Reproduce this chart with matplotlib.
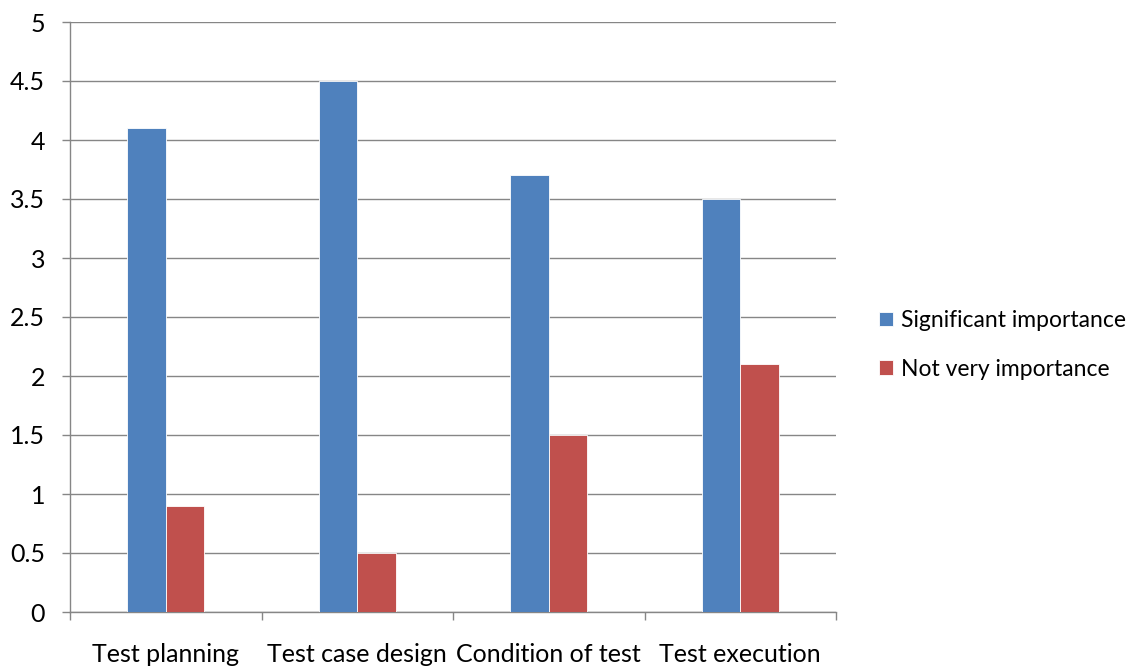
import numpy as np
import matplotlib.pyplot as plt

categories = ["Test planning", "Test case design", "Condition of test", "Test execution"]
significant = [4.1, 4.5, 3.7, 3.5]
not_very = [0.9, 0.5, 1.5, 2.1]
series_names = ["Significant importance", "Not very importance"]

plt.rcParams['font.family'] = ['Lato', 'DejaVu Sans']

fig = plt.figure(figsize=(11.44, 6.66), dpi=100)
ax = fig.add_axes([70 / 1144, 54 / 666, 766 / 1144, 590 / 666])

x = np.arange(len(categories))
w = 0.2
ax.bar(x - w / 2, significant, w, color='#4f81bd', edgecolor='white', linewidth=0.6,
       label=series_names[0], zorder=3)
ax.bar(x + w / 2, not_very, w, color='#c0504d', edgecolor='white', linewidth=0.6,
       label=series_names[1], zorder=3)

ax.set_xlim(-0.5, len(categories) - 0.5)
ax.set_ylim(0, 5)
ax.set_yticks(np.arange(0, 5.01, 0.5))
ax.set_yticklabels(['0', '0.5', '1', '1.5', '2', '2.5', '3', '3.5', '4', '4.5', '5'])
ax.yaxis.grid(True, color='#868686', linewidth=1.0, zorder=0)

# category labels sit between the tick marks
ax.set_xticks(np.arange(-0.5, len(categories), 1.0))
ax.set_xticklabels([])
ax.set_xticks(x, minor=True)
ax.set_xticklabels(categories, minor=True)
ax.tick_params(axis='x', which='minor', length=0, pad=22, labelsize=18)
ax.tick_params(axis='x', which='major', length=6, color='#868686', width=1.0)
ax.tick_params(axis='y', length=6, color='#868686', width=1.0, labelsize=18, pad=12)

for side in ['top', 'right']:
    ax.spines[side].set_visible(False)
for side in ['left', 'bottom']:
    ax.spines[side].set_color('#868686')
    ax.spines[side].set_linewidth(1.0)

fig.legend(loc='center left', bbox_to_anchor=(868 / 1144, 1 - 345 / 666), frameon=False,
           fontsize=16.5, handlelength=0.6, handleheight=0.6, handletextpad=0.35,
           labelspacing=1.2, borderpad=0)

fig.savefig('out.png', dpi=100)
